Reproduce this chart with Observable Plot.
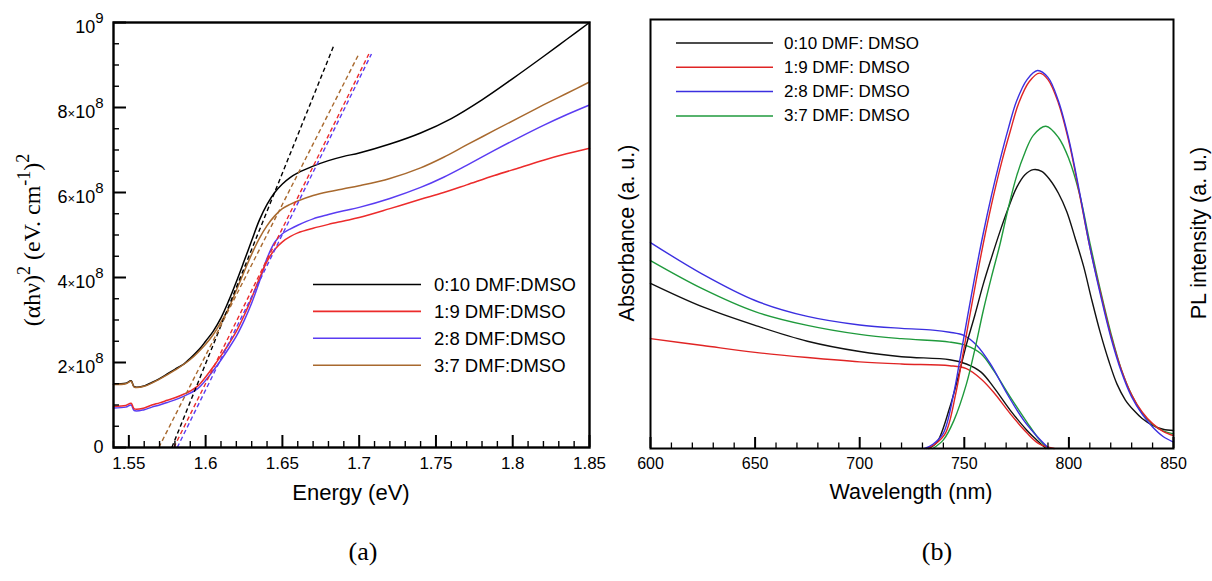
<!DOCTYPE html>
<html><head><meta charset="utf-8">
<script src="https://cdn.jsdelivr.net/npm/d3@7"></script>
<script src="https://cdn.jsdelivr.net/npm/@observablehq/plot@0.6"></script>
<style>
body{margin:0;background:#fff;}
#wrap{position:relative;width:1212px;height:581px;overflow:hidden;background:#fff;}
#wrap svg{position:absolute;top:0;}
</style></head><body><div id="wrap"></div>
<script>
// ---------- Panel (a): Tauc plot ----------
const seriesA = ["0:10 DMF:DMSO", "1:9 DMF:DMSO", "2:8 DMF:DMSO", "3:7 DMF:DMSO"];
const colorsA = ["#000000", "#ec2b2b", "#5a3cf2", "#a8692e"];
const energyBlack = [1.540,1.548,1.5515,1.5535,1.560,1.565,1.570,1.575,1.580,1.586,1.590,1.597,1.600,1.605,1.610,1.615,1.620,1.625,1.630,1.635,1.640,1.645,1.650,1.655,1.660,1.670,1.680,1.690,1.700,1.720,1.740,1.760,1.780,1.800,1.820,1.835,1.850];
const alphaBlack  = [1.49,1.51,1.57,1.43,1.45,1.53,1.62,1.73,1.84,1.97,2.10,2.36,2.50,2.74,3.05,3.45,3.90,4.38,4.87,5.35,5.72,6.00,6.20,6.35,6.46,6.62,6.75,6.85,6.93,7.14,7.40,7.74,8.18,8.68,9.20,9.60,10.0];
const energyRed = [1.540,1.548,1.5515,1.5535,1.560,1.565,1.570,1.575,1.580,1.586,1.590,1.595,1.600,1.605,1.610,1.615,1.620,1.625,1.630,1.635,1.640,1.645,1.650,1.655,1.660,1.670,1.680,1.690,1.700,1.720,1.740,1.755,1.770,1.788,1.805,1.820,1.835,1.850];
const alphaRed  = [0.97,0.99,1.04,0.91,0.93,1.00,1.05,1.11,1.17,1.26,1.33,1.45,1.66,1.90,2.16,2.43,2.73,3.10,3.52,3.98,4.38,4.66,4.84,4.96,5.05,5.16,5.25,5.33,5.41,5.62,5.84,6.00,6.18,6.40,6.59,6.76,6.91,7.04];
const energyBlue = [1.540,1.548,1.5515,1.5535,1.560,1.565,1.570,1.575,1.580,1.586,1.590,1.595,1.600,1.605,1.610,1.615,1.620,1.625,1.630,1.635,1.640,1.645,1.650,1.655,1.660,1.670,1.680,1.690,1.700,1.720,1.740,1.755,1.770,1.788,1.805,1.820,1.835,1.850];
const alphaBlue  = [0.93,0.95,1.00,0.87,0.89,0.95,1.00,1.06,1.12,1.21,1.28,1.39,1.58,1.81,2.06,2.33,2.62,2.98,3.40,3.90,4.45,4.83,5.03,5.14,5.23,5.38,5.48,5.57,5.65,5.86,6.12,6.36,6.64,6.99,7.31,7.58,7.83,8.06];
const energyBrown = [1.540,1.548,1.5515,1.5535,1.560,1.570,1.580,1.590,1.600,1.605,1.610,1.615,1.620,1.625,1.630,1.635,1.640,1.645,1.650,1.655,1.660,1.670,1.680,1.690,1.700,1.720,1.740,1.755,1.770,1.788,1.805,1.820,1.835,1.850];
const alphaBrown  = [1.48,1.50,1.56,1.42,1.44,1.61,1.82,2.07,2.43,2.66,2.95,3.28,3.70,4.13,4.55,4.92,5.22,5.45,5.62,5.72,5.80,5.93,6.02,6.09,6.16,6.33,6.58,6.83,7.12,7.46,7.78,8.06,8.33,8.60];
// linear-fit (dashed) lines: start on the energy axis, end point
const tangentE0 = [1.578, 1.5793, 1.5815, 1.5695];
const tangentV0 = [0, 0, 0, 0];
const tangentE1 = [1.6835, 1.7063, 1.708, 1.6998];
const tangentV1 = [9.46, 9.26, 9.26, 9.26];
// axes (values in units of 1e8)
const xTicksA = [1.55, 1.6, 1.65, 1.7, 1.75, 1.8, 1.85];
const xTickLabelsA = ["1.55", "1.6", "1.65", "1.7", "1.75", "1.8", "1.85"];
const xMinorA = [1.54,1.56,1.57,1.58,1.59,1.61,1.62,1.63,1.64,1.66,1.67,1.68,1.69,1.71,1.72,1.73,1.74,1.76,1.77,1.78,1.79,1.81,1.82,1.83,1.84];
const yTicksA = [0, 2, 4, 6, 8, 10];
const yTickLabelsA = ["0", "2×10^8", "4×10^8", "6×10^8", "8×10^8", "10^9"];
const yMinorA = [0.5,1,1.5,2.5,3,3.5,4.5,5,5.5,6.5,7,7.5,8.5,9,9.5];

// ---------- Panel (b): absorbance + PL ----------
const seriesB = ["0:10 DMF: DMSO", "1:9 DMF: DMSO", "2:8 DMF: DMSO", "3:7 DMF: DMSO"];
const colorsB = ["#111111", "#e02424", "#3b2fe0", "#1f9a3c"];
const wlAbsBlack = [600,625,650,675,700,720,743,751,758,764,772,780,785,789];
const absBlack   = [38.5,33.0,28.7,25.0,22.6,21.4,20.7,19.7,17.8,14.3,8.9,4.2,1.8,0];
const wlAbsRed = [600,625,650,675,700,720,743,751,758,764,772,780,786,793];
const absRed   = [25.6,24.0,22.4,21.2,20.2,19.7,19.3,18.6,16.2,13.1,8.1,3.6,1.0,0];
const wlAbsBlue = [600,625,650,675,700,720,735,743,750,756,762.5,770.5,778.5,786.5,790.5];
const absBlue   = [48.0,40.6,34.5,30.8,28.8,28.0,27.6,27.1,26.3,24.0,19.7,12.7,6.5,1.9,0];
const wlAbsGreen = [600,625,650,675,700,720,743,751,758,764,772,780,786,790];
const absGreen   = [43.8,37.2,31.9,28.7,26.6,25.6,24.8,24.0,22.1,18.2,12.0,6.1,2.0,0];
const wlPLBlack = [733,737,743,747,751,755,759,763,767,771,775,779,783,787,791,795,799,803,807,811,815,819,823,827,831,835,840,845,850];
const plBlack   = [0,1.5,9.5,16.5,24.2,31,38.2,44.5,50.5,56,60.8,63.8,65,64.6,62.6,59.5,55.2,49,42.5,34.5,27,20.5,15,11.3,8.9,7,5.4,4.5,4.2];
const wlPLRed = [732,736,741,746,749,752.5,756,760,764,768,772,776,781,786,790,795,800,805,810,815,820,825,830,835,840,845,850];
const plRed   = [0,1,3.6,13,21,30.6,40,50,59,67,74,80.5,85.5,87.5,86,80.5,71.5,59.5,47,36.5,26.5,18.5,12.5,8.5,5.8,4,3.0];
const wlPLBlue = [731,735,740,745,748,751.5,755,759,763,767,771,775,780,785,790,795,800,805,810,815,820,825,830,835,840,845,850];
const plBlue   = [0,1,3.6,13,21,30.6,40,50,59,67.1,74.5,81,86,88.1,86.5,81,72,60,47,36,26,18,12,8,5,2.8,1.5];
const wlPLGreen = [735,740,745,751,755,759,763,767,771,775,779,783,789,795,800,805,810,815,820,825,830,835,840,845,850];
const plGreen   = [0,2,6.5,15,23,32,40,47.5,56,63.5,69,73,75.1,72.5,67.5,59.5,48,37,27,18.5,12.5,8.3,5.6,4.1,3.4];
const xTicksB = [600, 650, 700, 750, 800, 850];
const xMinorB = [610,620,630,640,660,670,680,690,710,720,730,740,760,770,780,790,810,820,830,840];

// ---------- build tables ----------
function rows(series, xs, ys) { return xs.map((x, i) => ({series, x, y: ys[i]})); }
const curvesA = [rows(seriesA[0], energyBlack, alphaBlack), rows(seriesA[1], energyRed, alphaRed),
                 rows(seriesA[2], energyBlue, alphaBlue), rows(seriesA[3], energyBrown, alphaBrown)];
const tangents = seriesA.map((s, i) => ({series: s, x1: tangentE0[i], y1: tangentV0[i], x2: tangentE1[i], y2: tangentV1[i], c: colorsA[i]}));
const absB = [rows(seriesB[0], wlAbsBlack, absBlack), rows(seriesB[1], wlAbsRed, absRed),
              rows(seriesB[2], wlAbsBlue, absBlue), rows(seriesB[3], wlAbsGreen, absGreen)];
const plB = [rows(seriesB[0], wlPLBlack, plBlack), rows(seriesB[1], wlPLRed, plRed),
             rows(seriesB[2], wlPLBlue, plBlue), rows(seriesB[3], wlPLGreen, plGreen)];

const wrap = document.getElementById("wrap");
const SANS = "'Liberation Sans', Arial, Helvetica, sans-serif";
const SERIF = "'Liberation Serif', 'Times New Roman', serif";
const CURVE = "catmull-rom";

// ---------- left plot ----------
const LA = {w: 600, h: 490, ml: 113, mr: 11, mt: 22, mb: 43};
const fwA = LA.w - LA.ml - LA.mr, fhA = LA.h - LA.mt - LA.mb;
const orderA = [0, 2, 1, 3];
const left = Plot.plot({
  width: LA.w, height: LA.h, marginLeft: LA.ml, marginRight: LA.mr, marginTop: LA.mt, marginBottom: LA.mb,
  x: {domain: [1.54, 1.85], label: null},
  y: {domain: [0, 10], label: null},
  style: {fontFamily: SANS, fontSize: "17px", color: "#000", background: "transparent", overflow: "visible"},
  marks: [
    ...orderA.map(i => Plot.line(curvesA[i], {x: "x", y: "y", stroke: colorsA[i], strokeWidth: 1.5, curve: CURVE})),
    ...tangents.map(t => Plot.link([t], {x1: "x1", y1: "y1", x2: "x2", y2: "y2", stroke: t.c, strokeWidth: 1.4, strokeDasharray: "4.5,3"})),
    Plot.tickX(xMinorA, {x: d => d, insetTop: fhA - 6, stroke: "#000", strokeWidth: 1.4}),
    Plot.tickX(xTicksA, {x: d => d, insetTop: fhA - 12, stroke: "#000", strokeWidth: 2}),
    Plot.tickY(yMinorA, {y: d => d, insetRight: fwA - 6, stroke: "#000", strokeWidth: 1.4}),
    Plot.tickY(yTicksA, {y: d => d, insetRight: fwA - 13, stroke: "#000", strokeWidth: 2}),
    Plot.axisX({ticks: xTicksA, tickSize: 0, tickPadding: 9, fontSize: 17, tickFormat: d => xTickLabelsA[xTicksA.indexOf(d)]}),
    Plot.axisY({ticks: yTicksA, tickSize: 0, tickPadding: 10, fontSize: 18, tickFormat: d => yTickLabelsA[yTicksA.indexOf(d)]}),
    Plot.frame({stroke: "#000", strokeWidth: 2.4})
  ]
});
left.style.left = "0px";
wrap.appendChild(left);
// superscripts on y tick labels
const NS = "http://www.w3.org/2000/svg";
left.querySelectorAll('[aria-label="y-axis tick label"] text').forEach(t => {
  const s = t.textContent;
  if (!s.includes("^")) return;
  const [base, exp] = s.split("^");
  t.textContent = "";
  const b = document.createElementNS(NS, "tspan"); b.setAttribute("dy", "5");
  const k = base.indexOf("×");
  if (k >= 0) {
    [base.slice(0, k), "×", base.slice(k + 1)].forEach((p, j) => {
      const q = document.createElementNS(NS, "tspan"); q.textContent = p;
      if (j === 1) q.setAttribute("font-size", "13px");
      b.appendChild(q);
    });
  } else b.textContent = base;
  const e = document.createElementNS(NS, "tspan"); e.textContent = exp; e.setAttribute("dy", "-10");
  e.setAttribute("font-size", "15px");
  t.appendChild(b); t.appendChild(e);
});

// ---------- right plot ----------
const LB = {w: 612, h: 490, ml: 50, mr: 39, mt: 19, mb: 42};
const fwB = LB.w - LB.ml - LB.mr, fhB = LB.h - LB.mt - LB.mb;
const orderB = [0, 3, 1, 2];
const right = Plot.plot({
  width: LB.w, height: LB.h, marginLeft: LB.ml, marginRight: LB.mr, marginTop: LB.mt, marginBottom: LB.mb,
  x: {domain: [600, 850], label: null},
  y: {domain: [0, 100], axis: null},
  style: {fontFamily: SANS, fontSize: "16px", color: "#000", background: "transparent", overflow: "visible"},
  marks: [
    ...orderB.map(i => Plot.line(absB[i], {x: "x", y: "y", stroke: colorsB[i], strokeWidth: 1.4, curve: CURVE})),
    ...orderB.map(i => Plot.line(plB[i], {x: "x", y: "y", stroke: colorsB[i], strokeWidth: 1.4, curve: CURVE})),
    Plot.tickX(xMinorB, {x: d => d, insetTop: fhB - 5.5, stroke: "#000", strokeWidth: 1.3}),
    Plot.tickX(xTicksB, {x: d => d, insetTop: fhB - 11, stroke: "#000", strokeWidth: 2}),
    Plot.axisX({ticks: xTicksB, tickSize: 0, tickPadding: 9, fontSize: 16}),
    Plot.frame({stroke: "#000", strokeWidth: 2})
  ]
});
right.style.left = "600px";
wrap.appendChild(right);

// ---------- overlay: titles, legends, panel labels ----------
const ov = d3.select(wrap).append("svg").attr("width", 1212).attr("height", 581)
  .style("left", "0px").style("pointer-events", "none");

// left y title
const yl = ov.append("text").attr("transform", "translate(40,240) rotate(-90)")
  .attr("text-anchor", "middle").attr("font-family", SERIF).attr("font-size", 24).attr("fill", "#000");
yl.append("tspan").text("(αhν)");
yl.append("tspan").attr("dy", -10).attr("font-size", 18).text("2");
yl.append("tspan").attr("dy", 10).text(" (eV. cm");
yl.append("tspan").attr("dy", -10).attr("font-size", 18).text("-1");
yl.append("tspan").attr("dy", 10).text(")");
yl.append("tspan").attr("dy", -11).attr("font-size", 18).text("2");

ov.append("text").attr("x", 351).attr("y", 500).attr("text-anchor", "middle")
  .attr("font-family", SANS).attr("font-size", 22).text("Energy (eV)");
ov.append("text").attr("x", 911).attr("y", 499).attr("text-anchor", "middle")
  .attr("font-family", SANS).attr("font-size", 21.5).text("Wavelength (nm)");
ov.append("text").attr("transform", "translate(627,233) rotate(-90)").attr("text-anchor", "middle")
  .attr("dominant-baseline", "central").attr("font-family", SANS).attr("font-size", 21.5).text("Absorbance (a. u.)");
ov.append("text").attr("transform", "translate(1199,233) rotate(-90)").attr("text-anchor", "middle")
  .attr("dominant-baseline", "central").attr("font-family", SANS).attr("font-size", 21.5).text("PL intensity (a. u.)");

// legends
function legend(series, colors, x1, x2, tx, y0, gap, fs, sw) {
  const g = ov.append("g");
  series.forEach((s, i) => {
    const y = y0 + i * gap;
    g.append("line").attr("x1", x1).attr("x2", x2).attr("y1", y).attr("y2", y)
      .attr("stroke", colors[i]).attr("stroke-width", sw);
    g.append("text").attr("x", tx).attr("y", y).attr("dominant-baseline", "central")
      .attr("font-family", SANS).attr("font-size", fs).text(s);
  });
}
legend(seriesA, colorsA, 313, 421, 434, 284.5, 26.9, 18.5, 1.6);
legend(seriesB, colorsB, 676, 773, 784, 43, 24.3, 17, 1.5);

// panel labels
ov.append("text").attr("x", 363).attr("y", 560).attr("text-anchor", "middle")
  .attr("font-family", SERIF).attr("font-size", 26).text("(a)");
ov.append("text").attr("x", 937).attr("y", 560).attr("text-anchor", "middle")
  .attr("font-family", SERIF).attr("font-size", 26).text("(b)");
</script></body></html>
